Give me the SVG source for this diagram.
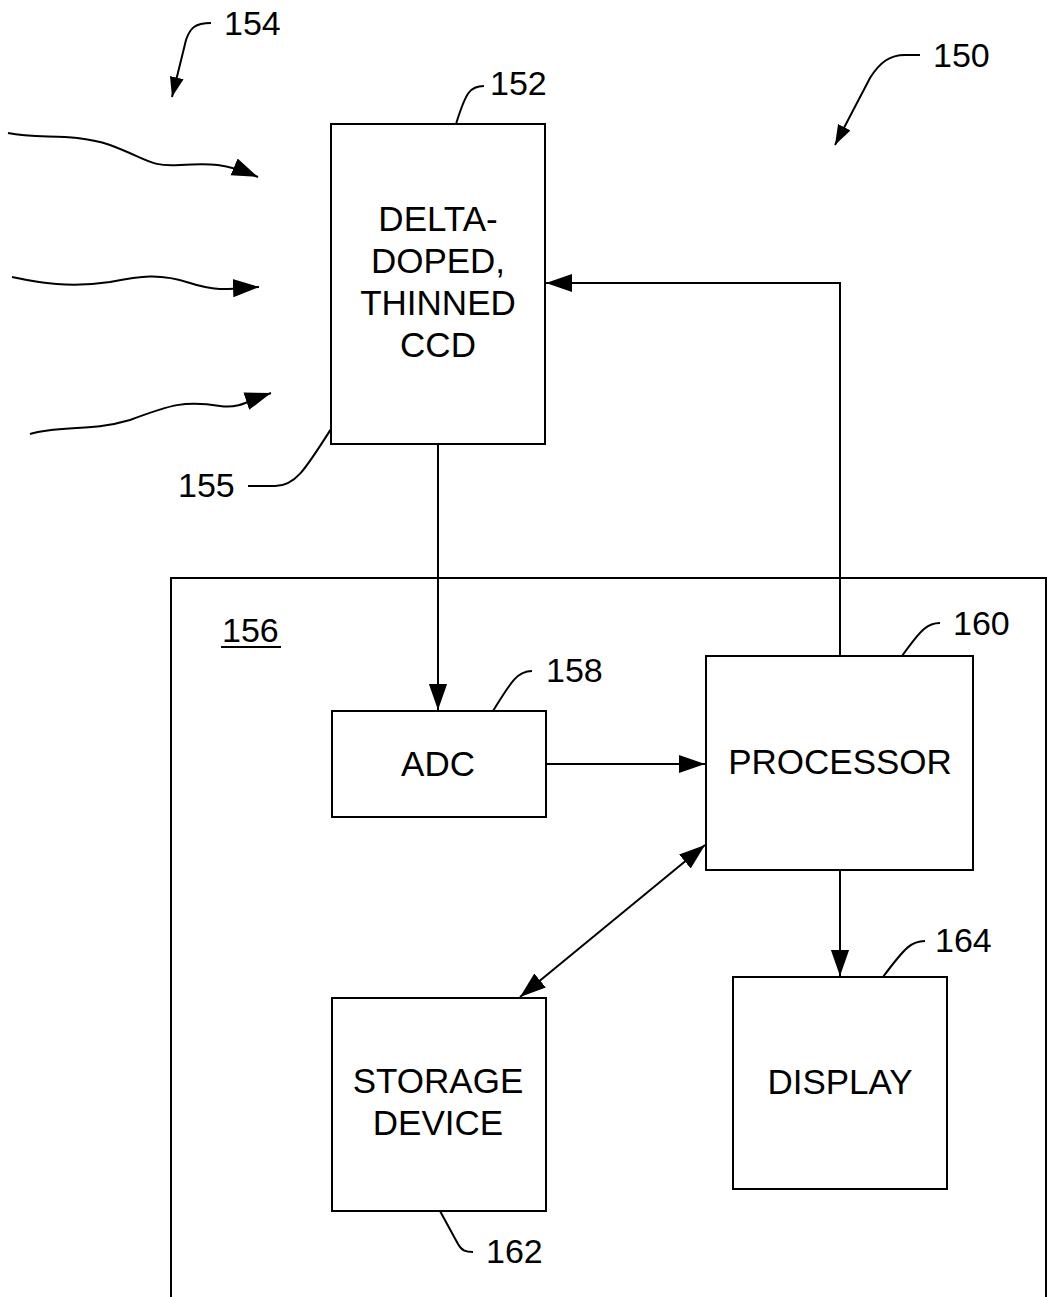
<svg xmlns="http://www.w3.org/2000/svg" width="1047" height="1297" viewBox="0 0 1047 1297">
<style>
.box{fill:none;stroke:#000;stroke-width:2}
.ln{fill:none;stroke:#000;stroke-width:2}
.t{font-family:"Liberation Sans",Arial,sans-serif;font-size:35px;fill:#000;text-anchor:middle}
.n{font-family:"Liberation Sans",Arial,sans-serif;font-size:34px;fill:#000}
</style>
<defs>
<marker id="ah" viewBox="0 0 10 10" refX="10" refY="5" markerWidth="20" markerHeight="20" markerUnits="userSpaceOnUse" orient="auto-start-reverse"><path d="M0,1.5 L10,5 L0,8.5 Z" fill="#000"/></marker>
<marker id="ahb" viewBox="0 0 10 10" refX="10" refY="5" markerWidth="26" markerHeight="26" markerUnits="userSpaceOnUse" orient="auto-start-reverse"><path d="M0,1.5 L10,5 L0,8.5 Z" fill="#000"/></marker>
</defs>
<rect width="1047" height="1297" fill="#fff"/>
<g id="frame156">
<path class="box" d="M171,1297 V578 H1046 V1297"/>
<text class="n" x="222" y="642">156</text>
<line x1="221" y1="647" x2="281" y2="647" stroke="#000" stroke-width="2"/>
</g>
<g id="ccd">
<rect class="box" x="331" y="124" width="214" height="320"/>
<text class="t" x="438" y="231">DELTA-</text>
<text class="t" x="438" y="273">DOPED,</text>
<text class="t" x="438" y="315">THINNED</text>
<text class="t" x="438" y="357">CCD</text>
<path class="ln" d="M484,86 C470,86 466,92 456,124"/>
<text class="n" x="490" y="95">152</text>
<path class="ln" d="M248,486 H275 C295,486 305,470 331,429"/>
<text class="n" x="178" y="497">155</text>
</g>
<g id="adc">
<rect class="box" x="332" y="711" width="214" height="106"/>
<text class="t" x="438" y="776">ADC</text>
<path class="ln" d="M532,671 C518,671 512,680 493,711"/>
<text class="n" x="546" y="682">158</text>
</g>
<g id="processor">
<rect class="box" x="706" y="656" width="267" height="214"/>
<text class="t" x="840" y="774">PROCESSOR</text>
<path class="ln" d="M940,623 C928,623 922,628 902,656"/>
<text class="n" x="953" y="635">160</text>
</g>
<g id="storage">
<rect class="box" x="332" y="998" width="214" height="213"/>
<text class="t" x="438" y="1093">STORAGE</text>
<text class="t" x="438" y="1135">DEVICE</text>
<path class="ln" d="M440,1211 L458,1244 C462,1251 466,1252 473,1252"/>
<text class="n" x="486" y="1263">162</text>
</g>
<g id="display">
<rect class="box" x="733" y="977" width="214" height="212"/>
<text class="t" x="840" y="1094">DISPLAY</text>
<path class="ln" d="M925,941 C912,941 906,946 883,977"/>
<text class="n" x="935" y="952">164</text>
</g>
<g id="refs">
<path class="ln" d="M211,23 C195,23 190,28 186,40 L172,97" marker-end="url(#ah)"/>
<text class="n" x="224" y="35">154</text>
<path class="ln" d="M920,55 H905 C890,55 880,62 870,78 L835,145" marker-end="url(#ah)"/>
<text class="n" x="933" y="67">150</text>
</g>
<g id="radiation">
<path class="ln" d="M8,133 C40,140 70,132 110,145 C150,160 150,167 180,165 C210,163 225,163 258,177" marker-end="url(#ahb)"/>
<path class="ln" d="M12,277 C40,283 70,288 110,282 C140,276 160,273 190,283 C220,293 235,288 259,287" marker-end="url(#ahb)"/>
<path class="ln" d="M30,434 C60,425 90,432 130,420 C170,405 185,400 220,406 C240,409 250,400 271,393" marker-end="url(#ahb)"/>
</g>
<g id="connectors">
<line class="ln" x1="438" y1="444" x2="438" y2="710" marker-end="url(#ahb)"/>
<line class="ln" x1="546" y1="764" x2="705" y2="764" marker-end="url(#ahb)"/>
<path class="ln" d="M840,656 V283 H546" marker-end="url(#ahb)"/>
<line class="ln" x1="840" y1="870" x2="840" y2="976" marker-end="url(#ahb)"/>
<line class="ln" x1="705" y1="845" x2="520" y2="997" marker-start="url(#ahb)" marker-end="url(#ahb)"/>
</g>
</svg>
